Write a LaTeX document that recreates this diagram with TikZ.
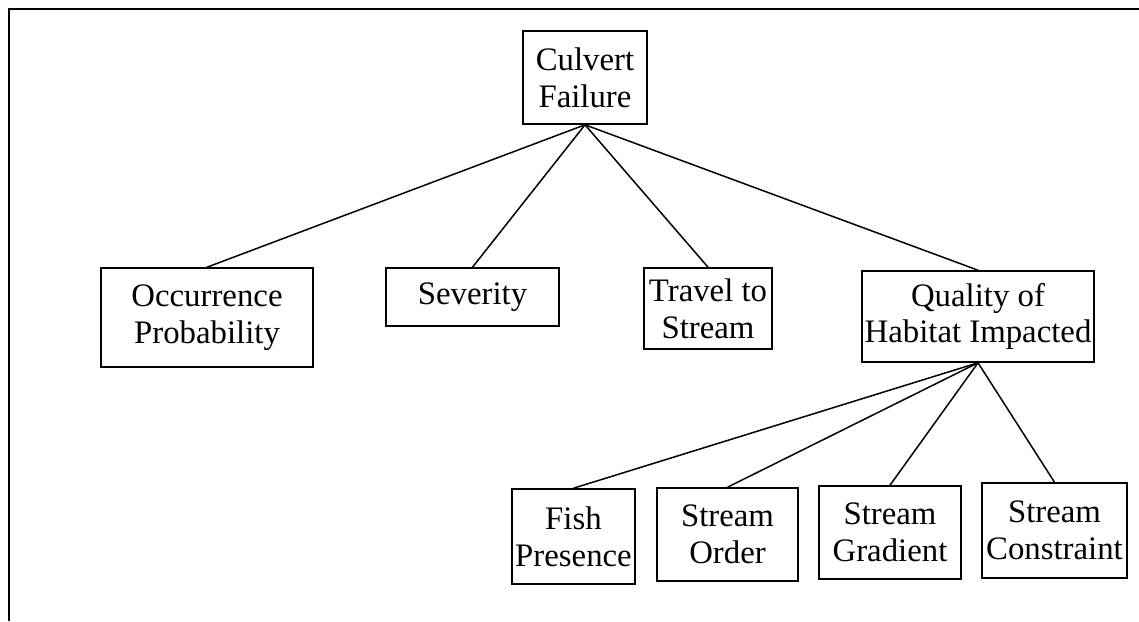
\documentclass[tikz,border=0pt]{standalone}
\usepackage{fontspec}
\setmainfont{Liberation Serif}
\begin{document}
\begin{tikzpicture}[x=0.5pt,y=-0.5pt,
  box/.style={draw, line width=0.8pt, inner sep=0pt, align=center,
    font=\fontsize{16.4}{18.4}\selectfont},
  link/.style={line width=0.75pt},
  frame/.style={line width=1.2pt}]
\useasboundingbox (0,0) rectangle (1139,621);
\coordinate (fbl) at (9,621);
\coordinate (ftl) at (9,9);
\coordinate (ftr) at (1139,9);
\draw[frame] (fbl) -- (ftl) -- (ftr);

\node[box, minimum width=62pt, minimum height=46.5pt] (cf) at (585,77.5) {Culvert\\Failure};
\node[box, minimum width=106pt, minimum height=49.5pt] (op) at (207,317.5) {Occurrence\\Probability};
\node[box, minimum width=86.5pt, minimum height=29pt] (sv) at (472.5,297) {Severity};
\node[box, minimum width=64pt, minimum height=40.5pt] (ts) at (708,308.5) {Travel to\\Stream};
\node[box, minimum width=116pt, minimum height=45.5pt] (qh) at (978,316.5) {Quality of\\Habitat Impacted};
\node[box, minimum width=61.5pt, minimum height=47.5pt] (fp) at (573.5,536.5) {Fish\\Presence};
\node[box, minimum width=70.5pt, minimum height=46.5pt] (so) at (727.5,534.5) {Stream\\Order};
\node[box, minimum width=71pt, minimum height=46.5pt] (sg) at (890,532.5) {Stream\\Gradient};
\node[box, minimum width=72.5pt, minimum height=47.5pt] (sc) at (1054.5,530.5) {Stream\\Constraint};

\foreach \c in {op,sv,ts,qh} \draw[link] (cf.south) -- (\c.north);
\foreach \c in {fp,so,sg,sc} \draw[link] (qh.south) -- (\c.north);
\end{tikzpicture}
\end{document}
